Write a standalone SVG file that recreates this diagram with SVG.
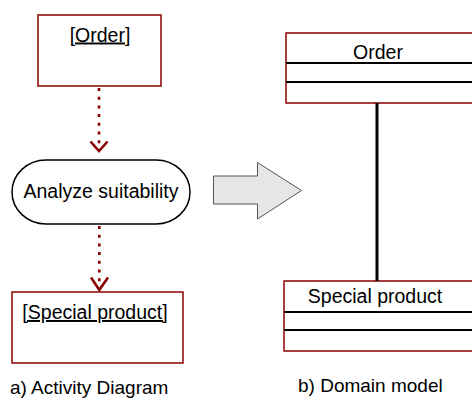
<svg xmlns="http://www.w3.org/2000/svg" width="472" height="399" viewBox="0 0 472 399">
<style>
text{font-family:"Liberation Sans",Arial,sans-serif;fill:#000}
.t{font-size:19.5px;text-anchor:middle}
.cap{font-size:19px}
.obj{fill:#fff;stroke:#8b0000;stroke-width:1.5}
.cls{fill:#fff;stroke:#8b0000;stroke-width:1.5}
.sep{stroke:#000;stroke-width:2}
.flow{stroke:#8b0000;stroke-width:2.6;stroke-dasharray:3 5.7;fill:none}
.head{stroke:#8b0000;stroke-width:2.6;fill:none}
</style>
<g id="obj-order">
<rect class="obj" x="38" y="15" width="123" height="71"/>
<text class="t" x="100" y="41.5" text-decoration="underline">[Order]</text>
</g>
<g id="act-analyze">
<rect x="12" y="160" width="178" height="64" rx="34" ry="32" fill="#fff" stroke="#000" stroke-width="1.5"/>
<text class="t" x="101" y="198">Analyze suitability</text>
</g>
<g id="obj-special">
<rect class="obj" x="12" y="292" width="171" height="71"/>
<text class="t" x="95" y="319" text-decoration="underline">[Special product]</text>
</g>
<g id="cls-order">
<rect class="cls" x="286" y="33" width="190" height="70"/>
<line class="sep" x1="286" y1="63" x2="472" y2="63"/>
<line class="sep" x1="286" y1="82" x2="472" y2="82"/>
<text class="t" x="378" y="59">Order</text>
</g>
<g id="cls-special">
<rect class="cls" x="284" y="281" width="192" height="70"/>
<line class="sep" x1="284" y1="312" x2="472" y2="312"/>
<line class="sep" x1="284" y1="330" x2="472" y2="330"/>
<text class="t" x="375" y="303">Special product</text>
</g>
<g id="transform-arrow">
<polygon points="213.5,176 257.5,176 257.5,162.5 301.5,190.5 257.5,219 257.5,204 213.5,204" fill="#e6e6e6" stroke="#555" stroke-width="1"/>
</g>
<g id="connectors">
<line class="flow" x1="99" y1="88" x2="99" y2="146"/>
<polyline class="head" points="90.5,141.5 99,151 107.5,141.5"/>
<line class="flow" x1="99.3" y1="226" x2="99.3" y2="286"/>
<polyline class="head" points="91,277.5 99.3,290 108,277.5"/>
<line x1="377" y1="103" x2="377" y2="281" stroke="#000" stroke-width="3"/>
</g>
<g id="captions">
<text class="cap" x="10" y="394">a) Activity Diagram</text>
<text class="cap" x="298" y="392">b) Domain model</text>
</g>
</svg>
